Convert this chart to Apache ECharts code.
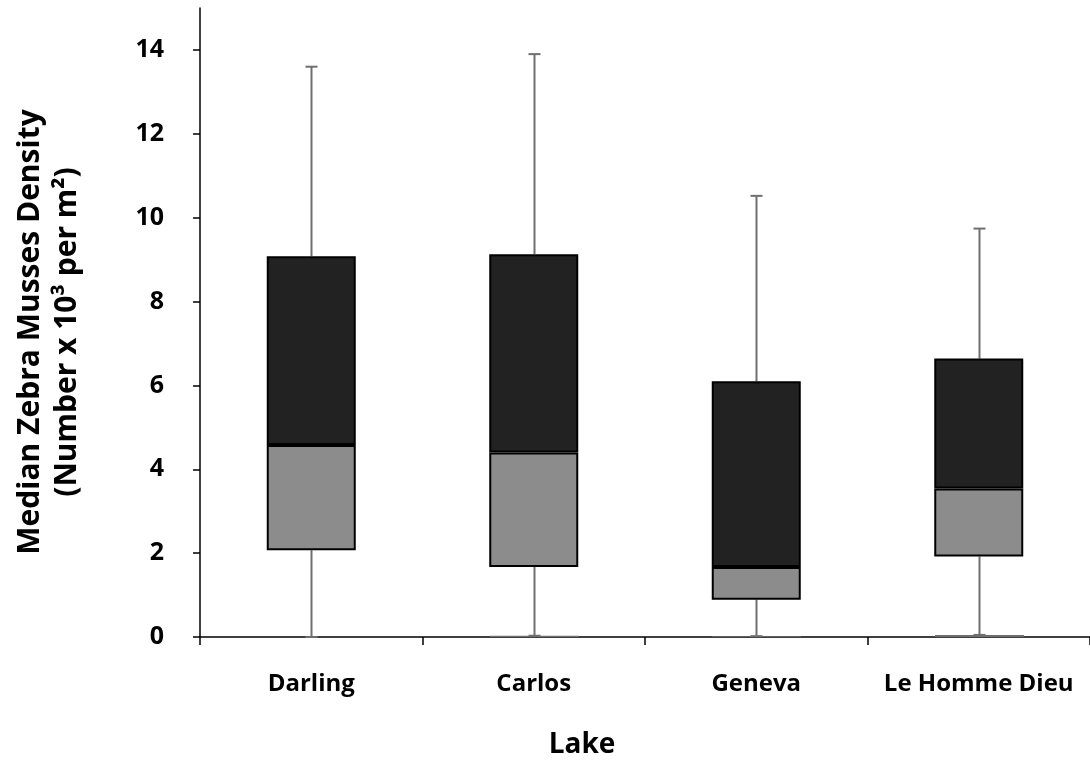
<!DOCTYPE html>
<html>
<head>
<meta charset="utf-8">
<script src="https://cdn.jsdelivr.net/npm/echarts@6/dist/echarts.min.js"></script>
<style>
html,body{margin:0;padding:0;background:#fff;}
#chart{width:1090px;height:765px;}
</style>
</head>
<body>
<div id="chart"></div>
<script>
// Data
var categories = ['Darling', 'Carlos', 'Geneva', 'Le Homme Dieu'];
var minValues = [0.0, 0.03, 0.02, 0.05];
var q1Values = [2.07, 1.67, 0.89, 1.92];
var medianValues = [4.58, 4.40, 1.67, 3.54];
var q3Values = [9.08, 9.13, 6.10, 6.64];
var maxValues = [13.6, 13.9, 10.52, 9.74];
var yTicks = [0, 2, 4, 6, 8, 10, 12, 14];

var FONT = '"Open Sans"';
var chart = echarts.init(document.getElementById('chart'), null, {renderer: 'canvas'});

var baseData = q1Values.slice();
var lowerData = medianValues.map(function (m, i) { return +(m - q1Values[i]).toFixed(3); });
var upperData = q3Values.map(function (q, i) { return +(q - medianValues[i]).toFixed(3); });
var whiskerData = categories.map(function (c, i) {
  return [i, minValues[i], q1Values[i], q3Values[i], maxValues[i]];
});

var BAR_FRAC = 0.4;

var option = {
  animation: false,
  backgroundColor: '#ffffff',
  grid: {left: 200, top: 8, width: 895, bottom: 128},
  xAxis: {
    type: 'category',
    data: categories,
    boundaryGap: true,
    axisLine: {lineStyle: {color: '#000', width: 1.5}},
    axisTick: {show: true, interval: 0, alignWithLabel: false, length: 8, lineStyle: {color: '#000', width: 1.5}},
    axisLabel: {color: '#000', interval: 0, hideOverlap: false, fontFamily: FONT, fontWeight: 'bold', fontSize: 24, margin: 35},
    splitLine: {show: false}
  },
  yAxis: {
    type: 'value',
    min: 0,
    max: 15,
    interval: 1,
    axisLine: {show: true, lineStyle: {color: '#000', width: 1.5}},
    axisTick: {show: true, length: 7, customValues: yTicks, lineStyle: {color: '#000', width: 1.5}},
    axisLabel: {color: '#000', fontFamily: FONT, fontWeight: 'bold', fontSize: 25, margin: 36, customValues: yTicks},
    splitLine: {show: false}
  },
  graphic: [
    {
      type: 'text',
      x: 30, y: 332,
      rotation: Math.PI / 2,
      style: {text: 'Median Zebra Musses Density', fill: '#000', font: 'bold 30px ' + FONT, textAlign: 'center', textVerticalAlign: 'middle'}
    },
    {
      type: 'text',
      x: 67, y: 332,
      rotation: Math.PI / 2,
      style: {text: '(Number x 10\u00B3 per m\u00B2)', fill: '#000', font: 'bold 30px ' + FONT, textAlign: 'center', textVerticalAlign: 'middle'}
    },
    {
      type: 'text',
      x: 582, y: 745,
      style: {text: 'Lake', fill: '#000', font: 'bold 28px ' + FONT, textAlign: 'center', textVerticalAlign: 'middle'}
    }
  ],
  series: [
    {
      type: 'custom',
      name: 'whiskers',
      z: 1,
      data: whiskerData,
      renderItem: function (params, api) {
        var x = api.value(0);
        var pMin = api.coord([x, api.value(1)]);
        var pQ1 = api.coord([x, api.value(2)]);
        var pQ3 = api.coord([x, api.value(3)]);
        var pMax = api.coord([x, api.value(4)]);
        var bw = api.size([1, 0])[0] * BAR_FRAC;
        var cx = Math.round(pMax[0]) + 0.5;
        var cap = 6;
        var st = {stroke: '#6f6f6f', lineWidth: 2};
        var children = [
          {type: 'line', shape: {x1: cx, y1: pQ3[1], x2: cx, y2: pMax[1]}, style: st},
          {type: 'line', shape: {x1: cx - cap, y1: pMax[1], x2: cx + cap, y2: pMax[1]}, style: st},
          {type: 'line', shape: {x1: cx, y1: pQ1[1], x2: cx, y2: pMin[1]}, style: st},
          {type: 'line', shape: {x1: cx - cap, y1: pMin[1], x2: cx + cap, y2: pMin[1]}, style: st}
        ];
        var zero = api.coord([x, 0]);
        if (zero[1] - pMin[1] > 0.5) {
          children.push({type: 'rect', shape: {x: cx - bw / 2, y: pMin[1], width: bw, height: zero[1] - pMin[1]}, style: {fill: '#6f6f6f'}});
        }
        return {type: 'group', children: children};
      }
    },
    {
      type: 'bar',
      name: 'base',
      stack: 'box',
      barWidth: (BAR_FRAC * 100) + '%',
      itemStyle: {color: 'rgba(0,0,0,0)'},
      data: baseData,
      z: 2
    },
    {
      type: 'bar',
      name: 'Q1-Median',
      stack: 'box',
      itemStyle: {color: '#8c8c8c', borderColor: '#000', borderWidth: 2},
      data: lowerData,
      z: 2
    },
    {
      type: 'bar',
      name: 'Median-Q3',
      stack: 'box',
      itemStyle: {color: '#222222', borderColor: '#000', borderWidth: 2},
      data: upperData,
      z: 2
    }
  ]
};
chart.setOption(option);
</script>
</body>
</html>
